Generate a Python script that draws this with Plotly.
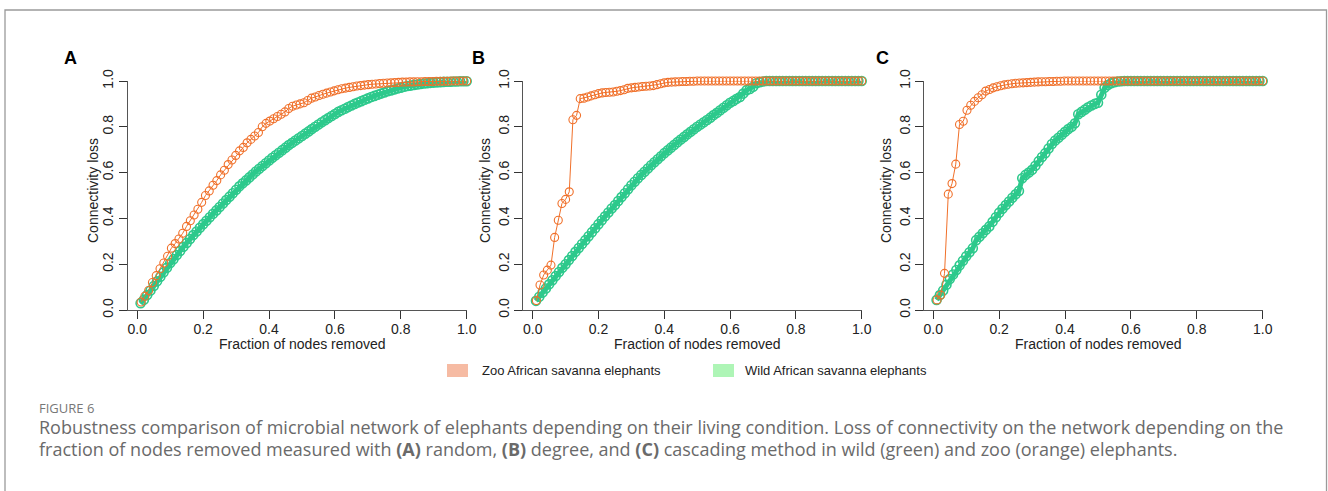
import plotly.graph_objects as go

W, H = 1328, 491

# ---------------- data ----------------
# Panel A (random removal)
zoo_nodes_A = 87
zoo_A = [0.035, 0.06, 0.085, 0.12, 0.15, 0.18, 0.205, 0.235, 0.27, 0.29,
         0.31, 0.335, 0.365, 0.39, 0.415, 0.44, 0.47, 0.50, 0.52, 0.545,
         0.565, 0.59, 0.61, 0.635, 0.655, 0.675, 0.695, 0.71, 0.73, 0.745,
         0.76, 0.775, 0.80, 0.815, 0.825, 0.835, 0.845, 0.855, 0.865, 0.88,
         0.89, 0.895, 0.90, 0.905, 0.915, 0.925, 0.93, 0.937, 0.942, 0.947,
         0.952, 0.957, 0.962, 0.966, 0.969, 0.972, 0.975, 0.978, 0.98, 0.982,
         0.984, 0.986, 0.987, 0.989, 0.99, 0.991, 0.992, 0.993, 0.994, 0.995,
         0.995, 0.996, 0.996, 0.997, 0.997, 0.998, 0.998, 0.998, 0.999, 0.999,
         0.999, 0.999, 1.0, 1.0, 1.0, 1.0, 1.0]
wild_nodes = 100
wild_A = [0.030, 0.045, 0.065, 0.085, 0.105, 0.125, 0.145, 0.165, 0.185, 0.205,
          0.222, 0.240, 0.258, 0.276, 0.293, 0.310, 0.327, 0.343, 0.359, 0.375,
          0.390, 0.405, 0.420, 0.435, 0.450, 0.465, 0.480, 0.495, 0.510, 0.525,
          0.540, 0.553, 0.566, 0.579, 0.592, 0.605, 0.617, 0.629, 0.641, 0.653,
          0.665, 0.676, 0.687, 0.698, 0.709, 0.720, 0.730, 0.740, 0.750, 0.760,
          0.770, 0.780, 0.790, 0.800, 0.810, 0.820, 0.829, 0.838, 0.847, 0.856,
          0.865, 0.872, 0.879, 0.886, 0.893, 0.900, 0.906, 0.912, 0.918, 0.924,
          0.930, 0.935, 0.940, 0.945, 0.950, 0.955, 0.959, 0.963, 0.967, 0.971,
          0.975, 0.978, 0.980, 0.983, 0.985, 0.987, 0.989, 0.990, 0.992, 0.993,
          0.994, 0.995, 0.996, 0.997, 0.997, 0.998, 0.998, 0.999, 0.999, 0.999]

# Panel B (degree removal)
zoo_nodes_B = 90
zoo_B = [0.041, 0.109, 0.153, 0.174, 0.196, 0.317, 0.392, 0.465, 0.483, 0.516,
         0.831, 0.850, 0.923, 0.925, 0.930, 0.935, 0.940, 0.945, 0.948, 0.950,
         0.951, 0.952, 0.955, 0.958, 0.962, 0.968, 0.970, 0.972, 0.974, 0.976,
         0.977, 0.978, 0.980, 0.984, 0.988, 0.992, 0.994, 0.995, 0.996, 0.997,
         0.998, 0.998, 0.999, 0.999, 1.0, 1.0, 1.0, 1.0, 1.0, 1.0,
         1.0, 1.0, 1.0, 1.0, 1.0, 1.0, 1.0, 1.0, 1.0, 1.0,
         1.0, 1.0, 1.0, 1.0, 1.0, 1.0, 1.0, 1.0, 1.0, 1.0,
         1.0, 1.0, 1.0, 1.0, 1.0, 1.0, 1.0, 1.0, 1.0, 1.0,
         1.0, 1.0, 1.0, 1.0, 1.0, 1.0, 1.0, 1.0, 1.0, 1.0]
wild_B = [0.040, 0.058, 0.076, 0.094, 0.112, 0.130, 0.148, 0.166, 0.184, 0.200,
          0.218, 0.236, 0.254, 0.271, 0.288, 0.305, 0.322, 0.340, 0.357, 0.375,
          0.392, 0.409, 0.426, 0.443, 0.458, 0.476, 0.493, 0.510, 0.527, 0.545,
          0.560, 0.575, 0.590, 0.604, 0.618, 0.632, 0.645, 0.658, 0.671, 0.685,
          0.697, 0.709, 0.721, 0.733, 0.744, 0.756, 0.767, 0.778, 0.789, 0.800,
          0.810, 0.820, 0.830, 0.840, 0.851, 0.861, 0.872, 0.883, 0.894, 0.905,
          0.913, 0.922, 0.930, 0.945, 0.960, 0.965, 0.975, 0.990, 0.995, 0.998,
          1.0, 1.0, 1.0, 1.0, 1.0, 1.0, 1.0, 1.0, 1.0, 1.0,
          1.0, 1.0, 1.0, 1.0, 1.0, 1.0, 1.0, 1.0, 1.0, 1.0,
          1.0, 1.0, 1.0, 1.0, 1.0, 1.0, 1.0, 1.0, 1.0, 1.0]

# Panel C (cascading removal)
zoo_nodes_C = 88
zoo_C = [0.044, 0.065, 0.16, 0.506, 0.552, 0.637, 0.81, 0.824, 0.872, 0.894,
         0.911, 0.927, 0.94, 0.956, 0.963, 0.970, 0.975, 0.979, 0.983, 0.986,
         0.988, 0.990, 0.991, 0.992, 0.993, 0.994, 0.995, 0.996, 0.997, 0.997,
         0.998, 0.998, 0.999, 0.999, 1.0, 1.0, 1.0, 1.0, 1.0, 1.0,
         1.0, 1.0, 1.0, 1.0, 1.0, 1.0, 1.0, 1.0, 1.0, 1.0,
         1.0, 1.0, 1.0, 1.0, 1.0, 1.0, 1.0, 1.0, 1.0, 1.0,
         1.0, 1.0, 1.0, 1.0, 1.0, 1.0, 1.0, 1.0, 1.0, 1.0,
         1.0, 1.0, 1.0, 1.0, 1.0, 1.0, 1.0, 1.0, 1.0, 1.0,
         1.0, 1.0, 1.0, 1.0, 1.0, 1.0, 1.0, 1.0]
wild_C = [0.044, 0.065, 0.085, 0.110, 0.135, 0.155, 0.175, 0.195, 0.215, 0.235,
          0.252, 0.270, 0.305, 0.320, 0.335, 0.350, 0.365, 0.385, 0.405, 0.425,
          0.442, 0.458, 0.474, 0.490, 0.505, 0.520, 0.575, 0.590, 0.600, 0.612,
          0.630, 0.650, 0.668, 0.685, 0.705, 0.725, 0.740, 0.752, 0.765, 0.778,
          0.790, 0.800, 0.815, 0.855, 0.865, 0.875, 0.885, 0.893, 0.900, 0.905,
          0.940, 0.970, 0.982, 0.990, 0.995, 0.998, 0.999, 1.0, 1.0, 1.0,
          1.0, 1.0, 1.0, 1.0, 1.0, 1.0, 1.0, 1.0, 1.0, 1.0,
          1.0, 1.0, 1.0, 1.0, 1.0, 1.0, 1.0, 1.0, 1.0, 1.0,
          1.0, 1.0, 1.0, 1.0, 1.0, 1.0, 1.0, 1.0, 1.0, 1.0,
          1.0, 1.0, 1.0, 1.0, 1.0, 1.0, 1.0, 1.0, 1.0, 1.0]

panel_labels = ["A", "B", "C"]
tick_vals = [0.0, 0.2, 0.4, 0.6, 0.8, 1.0]
tick_text = ["0.0", "0.2", "0.4", "0.6", "0.8", "1.0"]
x_title = "Fraction of nodes removed"
y_title = "Connectivity loss"
legend_labels = ["Zoo African savanna elephants", "Wild African savanna elephants"]
fig_label = "FIGURE 6"
caption_1 = ("Robustness comparison of microbial network of elephants depending on their living condition. "
             "Loss of connectivity on the network depending on the")
caption_2 = ("fraction of nodes removed measured with <b>(A)</b> random, <b>(B)</b> degree, and "
             "<b>(C)</b> cascading method in wild (green) and zoo (orange) elephants.")

ORANGE = "#F0702A"
GREEN = "#2DC98C"
FONT = "Liberation Sans, Arial"

# ---------------- layout geometry (pixels) ----------------
# (axis line x, x of value 0, x of value 1)
panels_px = [(128, 137.3, 466.7), (523.3, 532.7, 861.7), (924.3, 933.3, 1262.7)]
y0_px, y1_px = 310, 81
letter_x = [70, 478, 882]
ytitle_x = [93, 485, 886]


def px_x(p):
    return p / W


def px_y(p):
    return 1 - p / H


zoo_sets = [(zoo_A, zoo_nodes_A), (zoo_B, zoo_nodes_B), (zoo_C, zoo_nodes_C)]
wild_sets = [wild_A, wild_B, wild_C]

fig = go.Figure()
annotations = []
shapes = []

for i in range(3):
    ax_px, x0p, x1p = panels_px[i]
    scale = x1p - x0p
    xr = [(ax_px - x0p) / scale, 1.0]
    xa = "x" if i == 0 else f"x{i+1}"
    ya = "y" if i == 0 else f"y{i+1}"
    xkey = "xaxis" if i == 0 else f"xaxis{i+1}"
    ykey = "yaxis" if i == 0 else f"yaxis{i+1}"

    wy = wild_sets[i]
    wx = [(k + 1) / wild_nodes for k in range(len(wy))]
    zy, zn = zoo_sets[i]
    zx = [(k + 1) / zn for k in range(len(zy))]

    fig.add_trace(go.Scatter(
        x=wx, y=wy, mode="lines+markers", xaxis=xa, yaxis=ya,
        line=dict(color=GREEN, width=5),
        marker=dict(symbol="circle-open", size=9, color=GREEN, line=dict(width=1.6)),
        cliponaxis=False, showlegend=False, hoverinfo="skip"))
    fig.add_trace(go.Scatter(
        x=zx, y=zy, mode="lines+markers", xaxis=xa, yaxis=ya,
        line=dict(color=ORANGE, width=1),
        marker=dict(symbol="circle-open", size=8, color=ORANGE, line=dict(width=1.1)),
        cliponaxis=False, showlegend=False, hoverinfo="skip"))

    axis_common = dict(showgrid=False, zeroline=False, showline=True, linecolor="#555555",
                       linewidth=1.2, ticks="outside", ticklen=8, tickwidth=1.2,
                       tickcolor="#333333", tickvals=tick_vals, ticktext=tick_text,
                       automargin=False,
                       tickfont=dict(family=FONT, size=14, color="#222222"))
    fig.layout[xkey] = dict(domain=[px_x(ax_px), px_x(x1p)], range=xr,
                            anchor=ya, ticklabelstandoff=-2, **axis_common)
    fig.layout[ykey] = dict(domain=[px_y(y0_px), px_y(y1_px)], range=[0, 1],
                            anchor=xa, tickangle=-90, **axis_common)

    # panel letter
    annotations.append(dict(x=px_x(letter_x[i]), y=px_y(58), xref="paper", yref="paper",
                            text=f"<b>{panel_labels[i]}</b>", showarrow=False,
                            font=dict(family=FONT, size=18, color="#000000"),
                            xanchor="center", yanchor="middle"))
    # x title
    annotations.append(dict(x=px_x((x0p + x1p) / 2), y=px_y(343.5), xref="paper", yref="paper",
                            text=x_title, showarrow=False,
                            font=dict(family=FONT, size=14, color="#222222"),
                            xanchor="center", yanchor="middle"))
    # y title
    annotations.append(dict(x=px_x(ytitle_x[i]), y=px_y(191), xref="paper", yref="paper",
                            text=y_title, showarrow=False, textangle=-90,
                            font=dict(family=FONT, size=14, color="#222222"),
                            xanchor="center", yanchor="middle"))

# legend
leg_items = [(447, 468, 480, "#F6BBA3", legend_labels[0]),
             (713, 734, 743, "#AEF5B6", legend_labels[1])]
for sx0, sx1, tx, col, lab in leg_items:
    shapes.append(dict(type="rect", xref="paper", yref="paper",
                       x0=px_x(sx0), x1=px_x(sx1), y0=px_y(377), y1=px_y(364),
                       fillcolor=col, line=dict(width=0)))
    annotations.append(dict(x=px_x(tx), y=px_y(370.5), xref="paper", yref="paper",
                            text=lab, showarrow=False, xanchor="left", yanchor="middle",
                            font=dict(family=FONT, size=13, color="#222222")))

# frame
shapes.append(dict(type="rect", xref="paper", yref="paper",
                   x0=px_x(5), x1=px_x(1326.5), y0=px_y(520), y1=px_y(10),
                   fillcolor="rgba(0,0,0,0)", line=dict(color="#9a9a9a", width=1.3)))

# caption
annotations.append(dict(x=px_x(37), y=px_y(408), xref="paper", yref="paper",
                        text=fig_label, showarrow=False, xanchor="left", yanchor="middle",
                        font=dict(family="Open Sans", size=13, color="#777777")))
annotations.append(dict(x=px_x(37), y=px_y(427), xref="paper", yref="paper",
                        text=caption_1, showarrow=False, xanchor="left", yanchor="middle",
                        font=dict(family="Open Sans", size=18, color="#6a6a6a")))
annotations.append(dict(x=px_x(37), y=px_y(449), xref="paper", yref="paper",
                        text=caption_2, showarrow=False, xanchor="left", yanchor="middle",
                        font=dict(family="Open Sans", size=18, color="#6a6a6a")))

fig.update_layout(template="none", width=W, height=H, margin=dict(l=0, r=0, t=0, b=0, pad=0),
                  paper_bgcolor="white", plot_bgcolor="white",
                  annotations=annotations, shapes=shapes, showlegend=False)

fig.write_html("out.html", config={"displayModeBar": False},
               post_script="document.body.style.margin='0';document.body.style.overflow='hidden';")
